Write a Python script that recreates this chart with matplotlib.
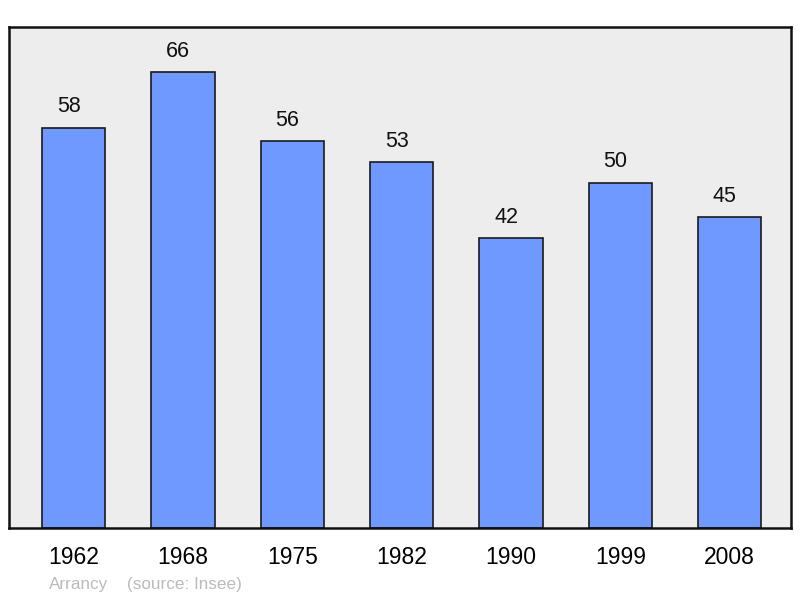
import matplotlib.pyplot as plt

# Population of Arrancy by census year
years = ['1962', '1968', '1975', '1982', '1990', '1999', '2008']
population = [58, 66, 56, 53, 42, 50, 45]

plt.rcParams['font.family'] = ['Liberation Sans', 'DejaVu Sans']

fig = plt.figure(figsize=(8, 5.98), dpi=100)
ax = fig.add_axes([0.01125, 0.117, 0.9775, 0.838])
ax.set_facecolor('#ededed')

x = range(len(years))
ax.bar(x, population, width=0.58, color='#7099ff', edgecolor='#1a1a1a', linewidth=1.2, zorder=2)

for xi, v in zip(x, population):
    ax.annotate(str(v), (xi, v), xytext=(-3.5, 7.5), textcoords='offset points',
                ha='center', va='bottom', fontsize=15.5, color='#111111')

ax.set_xlim(-0.59, 6.56)
ax.set_ylim(0, max(population) * 1.1)
ax.set_xticks(list(x))
ax.set_xticklabels(years, fontsize=16.5)
ax.tick_params(axis='x', length=0, pad=13)
ax.set_yticks([])
for s in ax.spines.values():
    s.set_linewidth(1.8)
    s.set_color('#111111')

fig.text(0.061, 0.015, 'Arrancy', fontsize=12.3, color='#bbbbbb')
fig.text(0.159, 0.015, '(source: Insee)', fontsize=12.3, color='#bbbbbb')

fig.savefig('out.png', dpi=100)
